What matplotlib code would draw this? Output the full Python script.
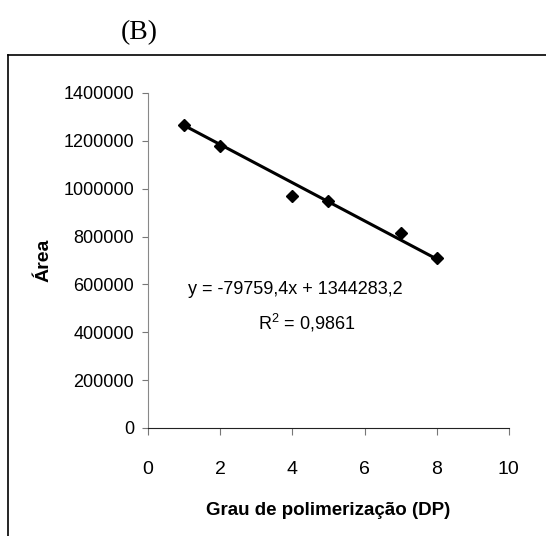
import matplotlib.pyplot as plt
from matplotlib.lines import Line2D

plt.rcParams['font.family'] = ['Liberation Sans', 'DejaVu Sans']

dp = [1, 2, 4, 5, 7, 8]
area = [1265000, 1180000, 970000, 950000, 815000, 710000]
fit = [-79759.4, 1344283.2]
x_ticks = [0, 2, 4, 6, 8, 10]
y_ticks = [0, 200000, 400000, 600000, 800000, 1000000, 1200000, 1400000]

fig = plt.figure(figsize=(5.46, 5.36), dpi=100)
ax = fig.add_axes([0.271, 0.2015, 0.661, 0.625])

ax.plot(dp, area, 'D', color='black', markersize=6.5)
xf = [dp[0], dp[-1]]
ax.plot(xf, [fit[0] * v + fit[1] for v in xf], color='black', lw=2.2)

ax.set_xlim(0, 10)
ax.set_ylim(0, 1400000)
ax.set_xticks(x_ticks)
ax.set_yticks(y_ticks)
ax.set_yticklabels([str(v) for v in y_ticks])
ax.tick_params(axis='y', labelsize=13, length=4, pad=6, color='#777777')
ax.tick_params(axis='x', labelsize=14, length=5, pad=19, color='#777777')
for s in ['top', 'right']:
    ax.spines[s].set_visible(False)
ax.spines['left'].set_color('#888888')
ax.spines['bottom'].set_color('#222222')

ax.set_xlabel('Grau de polimerização (DP)', fontsize=13.5, fontweight='bold', labelpad=17)
ax.set_ylabel('Área', fontsize=14, fontweight='bold', labelpad=8)

ax.text(0.11, 0.40, 'y = -79759,4x + 1344283,2', transform=ax.transAxes, fontsize=13)
ax.text(0.305, 0.295, '$\\mathregular{R^2}$ = 0,9861', transform=ax.transAxes, fontsize=13)

fig.text(0.255, 0.94, '(B)', fontsize=20, family='Liberation Serif', ha='center', va='center')
fig.add_artist(Line2D([0.015, 1.0], [0.897, 0.897], color='black', lw=1.2))
fig.add_artist(Line2D([0.015, 0.015], [0.897, 0.0], color='black', lw=1.2))

fig.savefig('out.png', dpi=100)
